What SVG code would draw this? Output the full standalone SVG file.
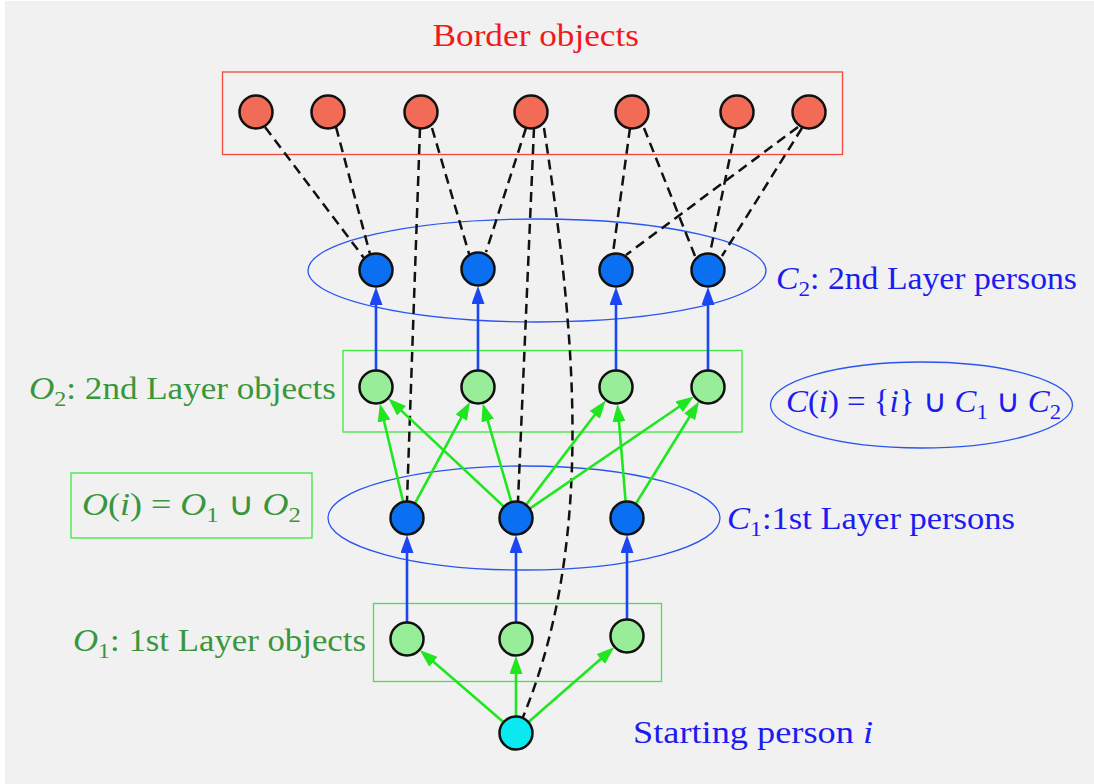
<svg xmlns="http://www.w3.org/2000/svg" width="1094" height="784" viewBox="0 0 1094 784">
<defs>
<marker id="ab" markerUnits="userSpaceOnUse" markerWidth="20" markerHeight="14" refX="8" refY="6.5" orient="auto"><path d="M0,0 L18,6.5 L0,13 z" fill="#1a47f0"/></marker>
<marker id="ag" markerUnits="userSpaceOnUse" markerWidth="20" markerHeight="14" refX="8" refY="6.5" orient="auto"><path d="M0,0 L18,6.5 L0,13 z" fill="#1fe61f"/></marker>
<style>
.lbl{font-family:"Liberation Serif","Times New Roman",serif;font-size:32px}
.bl{fill:#1c1cf0}.gr{fill:#3a963a}.rd{fill:#f01a1a}
.it{font-style:italic}
.nd{stroke:#111;stroke-width:2.5}
.red{fill:#f26b56}.blu{fill:#0a6ff0}.grn{fill:#98ee98}.cya{fill:#0ae8f0}
.dash{stroke:#111;stroke-width:2.5;stroke-dasharray:10 6;fill:none}
.ba{stroke:#1a47f0;stroke-width:2.6;marker-end:url(#ab)}
.ga{stroke:#1fe61f;stroke-width:2.6;marker-end:url(#ag)}
.ell{fill:none;stroke:#2a55f0;stroke-width:1.3}
.gbox{fill:none;stroke:#3ee83e;stroke-width:1.3}
</style>
</defs>
<rect width="1094" height="784" fill="#ffffff"/>
<rect x="5" y="1" width="1089" height="783" fill="#f1f1f1"/>

<g id="frames">
<rect x="222.5" y="72" width="620" height="82.5" fill="none" stroke="#ef4a3a" stroke-width="1.3"/>
<ellipse cx="537" cy="270.5" rx="229" ry="51.5" class="ell"/>
<rect x="343" y="350.5" width="399" height="81.5" class="gbox"/>
<ellipse cx="524" cy="518" rx="196" ry="52" class="ell"/>
<rect x="373.5" y="603.5" width="288" height="78" class="gbox"/>
<ellipse cx="921.5" cy="405" rx="151" ry="43" class="ell"/>
<rect x="71" y="473" width="241" height="65" class="gbox"/>
</g>

<g id="connectors">
<line class="dash" x1="265" y1="127" x2="364" y2="258"/>
<line class="dash" x1="336" y1="127" x2="370" y2="254"/>
<line class="dash" x1="420" y1="128" x2="407" y2="501"/>
<line class="dash" x1="432" y1="128" x2="470" y2="257"/>
<line class="dash" x1="526" y1="128" x2="486" y2="252"/>
<line class="dash" x1="534" y1="128" x2="518" y2="501"/>
<path class="dash" d="M544,128 C575,330 596,540 523,717"/>
<line class="dash" x1="630" y1="128" x2="613" y2="253"/>
<line class="dash" x1="644" y1="128" x2="695" y2="256"/>
<line class="dash" x1="736" y1="128" x2="710" y2="253"/>
<line class="dash" x1="798" y1="127" x2="626" y2="255"/>
<line class="dash" x1="802" y1="128" x2="722" y2="256"/>

<line class="ba" x1="376" y1="387" x2="376" y2="297"/>
<line class="ba" x1="478" y1="387" x2="478" y2="296"/>
<line class="ba" x1="616" y1="387" x2="616" y2="297"/>
<line class="ba" x1="708" y1="387" x2="708" y2="297"/>
<line class="ba" x1="407" y1="639" x2="407" y2="545"/>
<line class="ba" x1="516" y1="639" x2="516" y2="545"/>
<line class="ba" x1="627" y1="636" x2="627" y2="545"/>

<line class="ga" x1="516" y1="733" x2="427.4" y2="656.6"/>
<line class="ga" x1="516" y1="733" x2="516" y2="666"/>
<line class="ga" x1="516" y1="733" x2="606.7" y2="653.8"/>

<line class="ga" x1="407" y1="518" x2="382.2" y2="413.3"/>
<line class="ga" x1="407" y1="518" x2="465.1" y2="410.7"/>
<line class="ga" x1="516" y1="518" x2="395.7" y2="405.4"/>
<line class="ga" x1="516" y1="518" x2="485.5" y2="412.9"/>
<line class="ga" x1="516" y1="518" x2="599.6" y2="408.5"/>
<line class="ga" x1="516" y1="518" x2="685.7" y2="402.2"/>
<line class="ga" x1="627" y1="518" x2="618.3" y2="413.9"/>
<line class="ga" x1="627" y1="518" x2="693.8" y2="410"/>
</g>

<g id="border-objects">
<circle class="nd red" cx="256" cy="112" r="16.5"/>
<circle class="nd red" cx="328" cy="112" r="16.5"/>
<circle class="nd red" cx="421" cy="112" r="16.5"/>
<circle class="nd red" cx="531" cy="112" r="16.5"/>
<circle class="nd red" cx="632" cy="112" r="16.5"/>
<circle class="nd red" cx="737" cy="112" r="16.5"/>
<circle class="nd red" cx="809" cy="112" r="16.5"/>
</g>
<g id="layer2-persons">
<circle class="nd blu" cx="376" cy="270" r="16.5"/>
<circle class="nd blu" cx="478" cy="269" r="16.5"/>
<circle class="nd blu" cx="616" cy="270" r="16.5"/>
<circle class="nd blu" cx="708" cy="270" r="16.5"/>
</g>
<g id="layer2-objects">
<circle class="nd grn" cx="376" cy="387" r="16.5"/>
<circle class="nd grn" cx="478" cy="387" r="16.5"/>
<circle class="nd grn" cx="616" cy="387" r="16.5"/>
<circle class="nd grn" cx="708" cy="387" r="16.5"/>
</g>
<g id="layer1-persons">
<circle class="nd blu" cx="407" cy="518" r="16.5"/>
<circle class="nd blu" cx="516" cy="518" r="16.5"/>
<circle class="nd blu" cx="627" cy="518" r="16.5"/>
</g>
<g id="layer1-objects">
<circle class="nd grn" cx="407" cy="639" r="16.5"/>
<circle class="nd grn" cx="516" cy="639" r="16.5"/>
<circle class="nd grn" cx="627" cy="636" r="16.5"/>
</g>
<g id="start-person">
<circle class="nd cya" cx="516" cy="733" r="16.5"/>
</g>

<g id="labels">
<text class="lbl rd" x="432.5" y="46" textLength="206.5" lengthAdjust="spacingAndGlyphs">Border objects</text>
<text class="lbl bl" x="776" y="289" textLength="301" lengthAdjust="spacingAndGlyphs"><tspan class="it">C</tspan><tspan font-size="22" dy="7">2</tspan><tspan dy="-7">: 2nd Layer persons</tspan></text>
<text class="lbl bl" x="727" y="529" textLength="288" lengthAdjust="spacingAndGlyphs"><tspan class="it">C</tspan><tspan font-size="22" dy="7">1</tspan><tspan dy="-7">:1st Layer persons</tspan></text>
<text class="lbl bl" x="786" y="412" textLength="275" lengthAdjust="spacingAndGlyphs"><tspan class="it">C</tspan>(<tspan class="it">i</tspan>) = {<tspan class="it">i</tspan>} ∪ <tspan class="it">C</tspan><tspan font-size="22" dy="7">1</tspan><tspan dy="-7"> ∪ </tspan><tspan class="it">C</tspan><tspan font-size="22" dy="7">2</tspan></text>
<text class="lbl gr" x="29" y="399" textLength="307" lengthAdjust="spacingAndGlyphs"><tspan class="it">O</tspan><tspan font-size="22" dy="7">2</tspan><tspan dy="-7">: 2nd Layer objects</tspan></text>
<text class="lbl gr" x="82" y="515" textLength="219" lengthAdjust="spacingAndGlyphs"><tspan class="it">O</tspan>(<tspan class="it">i</tspan>) = <tspan class="it">O</tspan><tspan font-size="22" dy="7">1</tspan><tspan dy="-7"> ∪ </tspan><tspan class="it">O</tspan><tspan font-size="22" dy="7">2</tspan></text>
<text class="lbl gr" x="73" y="651" textLength="293" lengthAdjust="spacingAndGlyphs"><tspan class="it">O</tspan><tspan font-size="22" dy="7">1</tspan><tspan dy="-7">: 1st Layer objects</tspan></text>
<text class="lbl bl" x="633" y="743" textLength="240" lengthAdjust="spacingAndGlyphs">Starting person <tspan class="it">i</tspan></text>
</g>
</svg>
